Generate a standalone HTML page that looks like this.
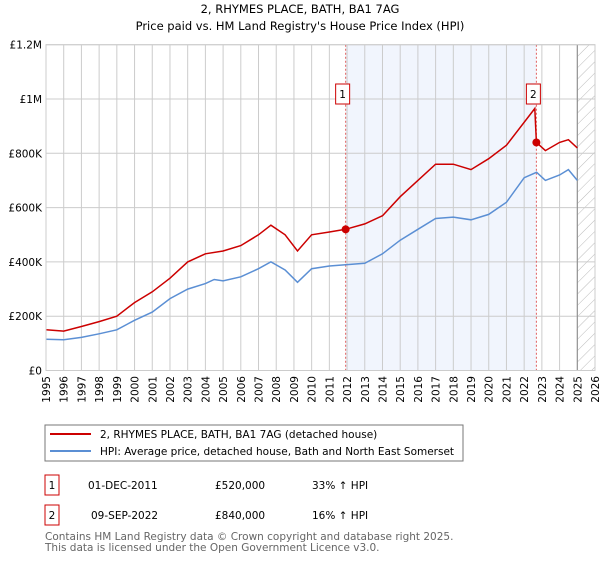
<!DOCTYPE html>
<html><head><meta charset="utf-8"><style>
body{margin:0;background:#fff;font-family:"DejaVu Sans","Liberation Sans",sans-serif}
svg text{font-family:"DejaVu Sans","Liberation Sans",sans-serif}
</style></head><body>
<svg id="c" width="600" height="560" xmlns="http://www.w3.org/2000/svg">
<defs><pattern id="hatch" width="8" height="8" patternUnits="userSpaceOnUse" patternTransform="rotate(45)"><line x1="0" y1="0" x2="0" y2="8" stroke="#bbb" stroke-width="1"/></pattern></defs>
<text x="300" y="13" text-anchor="middle" font-size="11.5">2, RHYMES PLACE, BATH, BA1 7AG</text>
<text x="300" y="30" text-anchor="middle" font-size="11.5">Price paid vs. HM Land Registry's House Price Index (HPI)</text>
<g id="plot"></g>
<rect x="45" y="425" width="418" height="36" fill="#fff" stroke="#777"/>
<line x1="50" y1="434" x2="91" y2="434" stroke="#cc0000" stroke-width="2"/>
<text x="100" y="438" font-size="10.5">2, RHYMES PLACE, BATH, BA1 7AG (detached house)</text>
<line x1="50" y1="451" x2="91" y2="451" stroke="#5b8fd4" stroke-width="2"/>
<text x="100" y="455" font-size="10.5">HPI: Average price, detached house, Bath and North East Somerset</text>
<g font-size="10.5">
<rect x="45" y="475" width="14" height="20" fill="none" stroke="#cc0000"/>
<text x="52" y="489" text-anchor="middle">1</text>
<text x="88" y="489">01-DEC-2011</text>
<text x="215" y="489">£520,000</text>
<text x="312" y="489">33% ↑ HPI</text>
<rect x="45" y="505" width="14" height="20" fill="none" stroke="#cc0000"/>
<text x="52" y="519" text-anchor="middle">2</text>
<text x="91" y="519">09-SEP-2022</text>
<text x="215" y="519">£840,000</text>
<text x="312" y="519">16% ↑ HPI</text>
</g>
<text x="45" y="540" font-size="10.5" fill="#666">Contains HM Land Registry data © Crown copyright and database right 2025.</text>
<text x="45" y="551" font-size="10.5" fill="#666">This data is licensed under the Open Government Licence v3.0.</text>
</svg>
<script>
const yTicks=[0,200000,400000,600000,800000,1000000,1200000];
const yTickLabels=["£0","£200K","£400K","£600K","£800K","£1M","£1.2M"];
const years=[1995,1996,1997,1998,1999,2000,2001,2002,2003,2004,2005,2006,2007,2008,2009,2010,2011,2012,2013,2014,2015,2016,2017,2018,2019,2020,2021,2022,2023,2024,2025,2026];
const hpiDates=[1995,1996,1997,1998,1999,2000,2001,2002,2003,2004,2004.5,2005,2006,2007,2007.7,2008.5,2009.2,2010,2011,2012,2013,2014,2015,2016,2017,2018,2019,2020,2021,2022,2022.7,2023.2,2024,2024.5,2025];
const hpiValues=[115000,113000,122000,135000,150000,185000,215000,265000,300000,320000,335000,330000,345000,375000,400000,370000,325000,375000,385000,390000,395000,430000,480000,520000,560000,565000,555000,575000,620000,710000,730000,700000,720000,740000,700000];
const priceDates=[1995,1996,1997,1998,1999,2000,2001,2002,2003,2004,2005,2006,2007,2007.7,2008.5,2009.2,2010,2011,2011.92,2013,2014,2015,2016,2017,2018,2019,2020,2021,2022.6,2022.69,2023.2,2024,2024.5,2025];
const priceValues=[150000,145000,162000,180000,200000,250000,290000,340000,400000,430000,440000,460000,500000,535000,500000,440000,500000,510000,520000,540000,570000,640000,700000,760000,760000,740000,780000,830000,965000,840000,810000,840000,850000,820000];
const saleDates=[2011.92,2022.69];
const saleValues=[520000,840000];
const saleLabels=["1","2"];
const X0=46,X1=595,Y0=370.5,Y1=44.7;
const xs=t=>X0+(t-1995)/(2026-1995)*(X1-X0);
const ys=v=>Y0-v/1200000*(Y0-Y1);
const NS="http://www.w3.org/2000/svg";
const g=document.getElementById('plot');
function mk(tag,attrs,parent){const e=document.createElementNS(NS,tag);for(const k in attrs)e.setAttribute(k,attrs[k]);(parent||g).appendChild(e);return e;}
let e;
e=mk('rect',{x:xs(saleDates[0]),y:Y1,width:xs(saleDates[1])-xs(saleDates[0]),height:Y0-Y1,fill:'#eef3fc',opacity:0.8});


e=mk('rect',{x:xs(2025),y:Y1,width:X1-xs(2025),height:Y0-Y1,fill:'url(#hatch)'});


years.forEach(y=>{
 e=mk('line',{x1:xs(y),x2:xs(y),y1:Y1,y2:Y0,stroke:'#ccc','stroke-width':1});
 
 
 e=mk('text',{x:xs(y)+4,y:376,'font-size':10.5,'text-anchor':'end',transform:`rotate(-90 ${xs(y)+4} 376)`});
 e.textContent=y;
 
 
});
yTicks.forEach((v,i)=>{
 e=mk('line',{x1:X0,x2:X1,y1:ys(v),y2:ys(v),stroke:'#ccc','stroke-width':1});
 
 
 e=mk('text',{x:X0-4,y:ys(v)+4,'font-size':10.5,'text-anchor':'end'});
 e.textContent=yTickLabels[i];
 
 
});
e=mk('line',{x1:xs(2025),x2:xs(2025),y1:Y1,y2:Y0,stroke:'#888','stroke-width':1});


saleDates.forEach((d,i)=>{
 e=mk('line',{x1:xs(d),x2:xs(d),y1:Y1,y2:Y0,stroke:'#e06060','stroke-dasharray':'2,2','stroke-width':1});
 
 
});
function path(ds,vs){return ds.map((d,i)=>(i?'L':'M')+xs(d).toFixed(1)+','+ys(vs[i]).toFixed(1)).join(' ');}
e=mk('path',{d:path(hpiDates,hpiValues),fill:'none',stroke:'#5b8fd4','stroke-width':1.5});


e=mk('path',{d:path(priceDates,priceValues),fill:'none',stroke:'#cc0000','stroke-width':1.5});


saleDates.forEach((d,i)=>{
 e=mk('circle',{cx:xs(d),cy:ys(saleValues[i]),r:4,fill:'#cc0000'});
 
 
 e=mk('rect',{x:xs(d)-10,y:84,width:14,height:20,fill:'#fff',stroke:'#cc0000'});
 
 
 e=mk('text',{x:xs(d)-3,y:98,'font-size':10.5,'text-anchor':'middle'});
 e.textContent=saleLabels[i];
 
 
});
e=mk('rect',{x:X0,y:Y1,width:X1-X0,height:Y0-Y1,fill:'none',stroke:'#ccc'});


</script>
</body></html>
